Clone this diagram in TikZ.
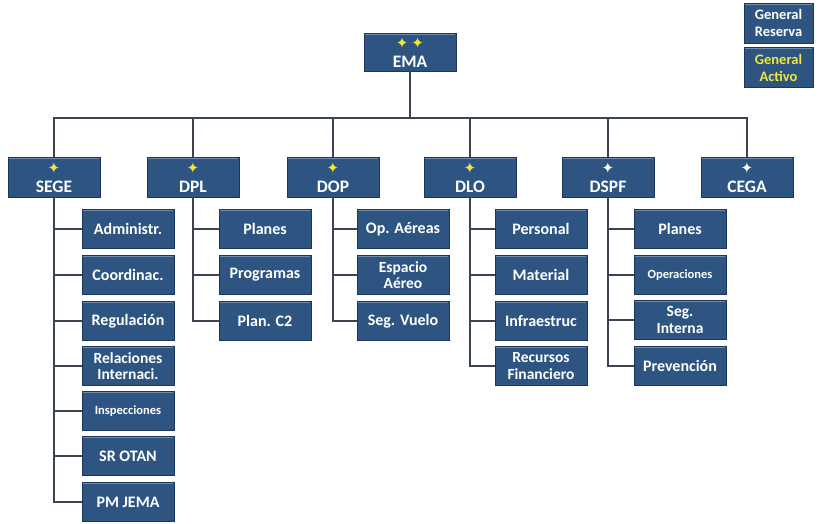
\documentclass[tikz,border=0pt]{standalone}
\usepackage{fontspec}
\setmainfont{Carlito}
\newfontfamily\symfont{DejaVu Sans}
\definecolor{boxblue}{RGB}{46,85,130}
\definecolor{boxedge}{RGB}{30,55,88}
\definecolor{boxhi}{RGB}{110,140,175}
\definecolor{linkcol}{RGB}{58,68,82}
\definecolor{staryel}{RGB}{240,230,60}
\newcommand{\ystar}{{\symfont\color{staryel}\fontsize{15}{14}\selectfont ✦}}
\newcommand{\wstar}{{\symfont\color{white}\fontsize{15}{14}\selectfont ✦}}
\begin{document}
\begin{tikzpicture}[x=1pt,y=-1pt,
  unitbox/.style={rectangle, fill=boxblue, draw=boxedge, line width=0.8pt,
    text=white, font=\bfseries, align=center, inner sep=0pt,
    path picture={\draw[boxhi,line width=1.2pt]
      ([xshift=1pt,yshift=-1pt]path picture bounding box.north west) --
      ([xshift=-1pt,yshift=-1pt]path picture bounding box.north east);}},
  headbox/.style={unitbox, minimum width=92pt, minimum height=40pt,
    font=\bfseries\fontsize{17.5}{19}\selectfont},
  subbox/.style={unitbox, minimum width=92pt, minimum height=39pt,
    font=\bfseries\fontsize{16}{16}\selectfont},
  twoline/.style={subbox, font=\bfseries\fontsize{15.5}{16.5}\selectfont},
  smallsub/.style={subbox, font=\bfseries\fontsize{12.5}{13}\selectfont},
  keybox/.style={unitbox, minimum width=69pt, minimum height=40pt,
    font=\bfseries\fontsize{14.5}{17}\selectfont},
  link/.style={draw=linkcol, line width=1.5pt}]
\useasboundingbox (0,0) rectangle (827,523);

% top of the hierarchy
\node[headbox, minimum height=38pt] (ema) at (410,52) {\ystar\,\ystar\\EMA};
\coordinate (bus) at (410,118);

% directorates
\node[headbox] (sege) at (54,177)  {\ystar\\SEGE};
\node[headbox] (dpl)  at (193,177) {\ystar\\DPL};
\node[headbox] (dop)  at (333,177) {\ystar\\DOP};
\node[headbox] (dlo)  at (470,177) {\ystar\\DLO};
\node[headbox] (dspf) at (608,177) {\wstar\\DSPF};
\node[headbox] (cega) at (747,177) {\wstar\\CEGA};

% legend
\node[keybox] (reserva) at (778.5,23) {General\\Reserva};
\node[keybox, text=staryel] (activo) at (778.5,67.5) {General\\Activo};

% SEGE sections
\node[subbox] (s1) at (128,229) {Administr.};
\node[subbox] (s2) at (128,275) {Coordinac.};
\node[subbox] (s3) at (128,321) {Regulación};
\node[twoline] (s4) at (128,366) {Relaciones\\Internaci.};
\node[smallsub] (s5) at (128,411) {Inspecciones};
\node[subbox] (s6) at (128,456) {SR OTAN};
\node[subbox] (s7) at (128,502) {PM JEMA};

% DPL sections
\node[subbox] (p1) at (265,229) {Planes};
\node[subbox] (p2) at (265,275) {Programas};
\node[subbox] (p3) at (265,321) {Plan. C2};

% DOP sections
\node[subbox] (o1) at (403,229) {Op. Aéreas};
\node[twoline] (o2) at (403,275) {Espacio\\Aéreo};
\node[subbox] (o3) at (403,321) {Seg. Vuelo};

% DLO sections
\node[subbox] (l1) at (541,229) {Personal};
\node[subbox] (l2) at (541,275) {Material};
\node[subbox] (l3) at (541,321) {Infraestruc};
\node[twoline] (l4) at (541,366) {Recursos\\Financiero};

% DSPF sections
\node[subbox] (f1) at (680,229) {Planes};
\node[smallsub] (f2) at (680,275) {Operaciones};
\node[twoline] (f3) at (680,320) {Seg.\\Interna};
\node[subbox] (f4) at (680,366) {Prevención};

% connectors
\begin{scope}[on background layer/.try]
\draw[link] (ema) -- (bus);
\foreach \d in {sege,dpl,dop,dlo,dspf,cega}
  \draw[link] (bus) -| (\d.north);
\foreach \c in {s1,s2,s3,s4,s5,s6,s7}
  \draw[link] (sege.south) |- (\c.west);
\foreach \c in {p1,p2,p3}
  \draw[link] (dpl.south) |- (\c.west);
\foreach \c in {o1,o2,o3}
  \draw[link] (dop.south) |- (\c.west);
\foreach \c in {l1,l2,l3,l4}
  \draw[link] (dlo.south) |- (\c.west);
\foreach \c in {f1,f2,f3,f4}
  \draw[link] (dspf.south) |- (\c.west);
\end{scope}
\end{tikzpicture}
\end{document}
